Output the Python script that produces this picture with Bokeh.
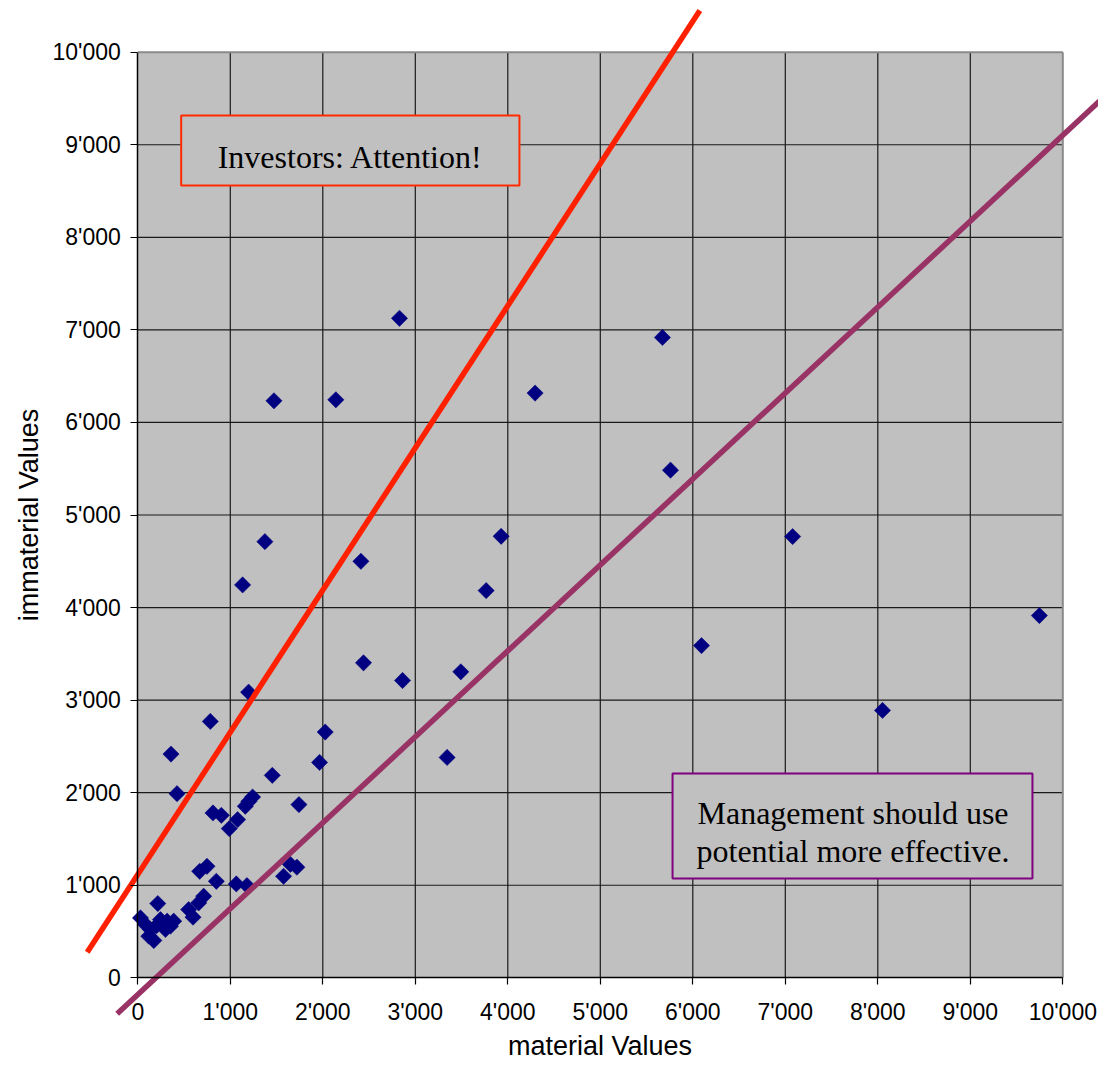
from bokeh.plotting import figure
from bokeh.models import Range1d, LinearAxis, FixedTicker, ColumnDataSource
from bokeh.core.properties import value
from bokeh.embed import file_html
from bokeh.resources import INLINE
import numpy as np

# ---- data ----
material = [2829, 5672, 1472, 2141, 4295, 5759, 1374, 3928, 7079, 1133,
            2412, 3766, 9747, 6094, 2440, 3492, 2862, 1198, 8051, 784,
            2026, 3344, 359, 1965, 1454, 424, 1241, 1200, 1162, 1742,
            813, 903, 1079, 989, 748, 669, 849, 1065, 1180, 1650,
            1720, 1576, 216, 712, 658, 550, 597, 29, 83, 137,
            119, 173, 245, 317, 388, 299, 353, 200]
immaterial = [7125, 6918, 6234, 6245, 6317, 5484, 4712, 4770, 4767, 4245,
              4500, 4183, 3914, 3589, 3403, 3306, 3212, 3086, 2889, 2770,
              2655, 2381, 2417, 2327, 2187, 1989, 1953, 1905, 1853, 1871,
              1781, 1755, 1709, 1612, 1205, 1151, 1043, 1014, 996, 1225,
              1195, 1097, 802, 881, 809, 737, 655, 647, 576, 522,
              450, 403, 629, 612, 612, 522, 558, 560]

investor_line_x = [-547, 6076]
investor_line_y = [276, 10450]
management_line_x = [-223, 10700]
management_line_y = [-389, 9753]

x_ticks = [0, 1000, 2000, 3000, 4000, 5000, 6000, 7000, 8000, 9000, 10000]
y_ticks = [0, 1000, 2000, 3000, 4000, 5000, 6000, 7000, 8000, 9000, 10000]
tick_labels = {t: f"{t:,}".replace(",", "'") for t in x_ticks}

investor_text = "Investors: Attention!"
management_text = ["Management should use", "potential more effective."]

# ---- figure ----
p = figure(width=1098, height=1063,
           x_range=Range1d(-1484.3, 10385.9), y_range=Range1d(-925.9, 10558.6),
           x_axis_type=None, y_axis_type=None,
           toolbar_location=None, output_backend="svg",
           min_border=0, outline_line_color=None,
           background_fill_color="white", border_fill_color="white")

# plot area background
p.quad(left=[0], right=[10000], bottom=[0], top=[10000],
       fill_color="#c0c0c0", line_color=None)

# grid lines
inner = x_ticks[1:-1]
p.segment(x0=inner, x1=inner, y0=[0]*len(inner), y1=[10000]*len(inner),
          line_color="#1a1a1a", line_width=1.2)
inner_y = y_ticks[1:-1]
p.segment(x0=[0]*len(inner_y), x1=[10000]*len(inner_y), y0=inner_y, y1=inner_y,
          line_color="#1a1a1a", line_width=1.2)
# top / right border
p.segment(x0=[0, 10000], x1=[10000, 10000], y0=[10000, 0], y1=[10000, 10000],
          line_color="#8a8a8a", line_width=2)

# annotation boxes
p.quad(left=[469], right=[4126], bottom=[8560], top=[9316],
       fill_color="#c0c0c0", line_color="#ff2a00", line_width=2)
p.quad(left=[5781], right=[9672], bottom=[1073], top=[2207],
       fill_color="#c0c0c0", line_color="#800080", line_width=2)

p.text(x=[2300], y=[8873], text=[investor_text],
       text_font=value("Liberation Serif"), text_font_size="32px",
       text_align="center", text_baseline="alphabetic", text_color="black")
p.text(x=[7732, 7732], y=[1778, 1368], text=management_text,
       text_font=value("Liberation Serif"), text_font_size="32px",
       text_align="center", text_baseline="alphabetic", text_color="black")

# data points
src = ColumnDataSource(dict(x=material, y=immaterial))
p.scatter("x", "y", source=src, marker="square", size=11.5, angle=np.pi / 4,
          fill_color="#000080", line_color="#000080", line_width=0.5)

# reference lines
p.line(investor_line_x, investor_line_y, line_color="#ff2000", line_width=5.5,
       line_cap="butt")
p.line(management_line_x, management_line_y, line_color="#993366", line_width=5.5,
       line_cap="butt")

# axes
def style_axis(ax):
    ax.axis_line_color = "black"
    ax.axis_line_width = 1.5
    ax.major_tick_line_color = "black"
    ax.major_tick_line_width = 1.2
    ax.major_tick_out = 7
    ax.major_tick_in = 0
    ax.minor_tick_line_color = None
    ax.major_label_text_font = "Liberation Sans"
    ax.major_label_text_font_size = "23px"
    ax.major_label_text_color = "black"
    ax.axis_label_text_font = "Liberation Sans"
    ax.axis_label_text_font_size = "27px"
    ax.axis_label_text_font_style = "normal"
    ax.axis_label_text_color = "black"
    ax.major_label_overrides = tick_labels

xaxis = LinearAxis(fixed_location=0, bounds=(0, 10000),
                   ticker=FixedTicker(ticks=x_ticks), axis_label="material Values")
style_axis(xaxis)
xaxis.major_label_standoff = 14
xaxis.axis_label_standoff = 3
p.add_layout(xaxis, "below")

yaxis = LinearAxis(fixed_location=0, bounds=(0, 10000),
                   ticker=FixedTicker(ticks=y_ticks), axis_label="immaterial Values")
style_axis(yaxis)
yaxis.major_label_standoff = 10
yaxis.axis_label_standoff = 5
p.add_layout(yaxis, "left")

open("out.html", "w").write(file_html(p, INLINE))
